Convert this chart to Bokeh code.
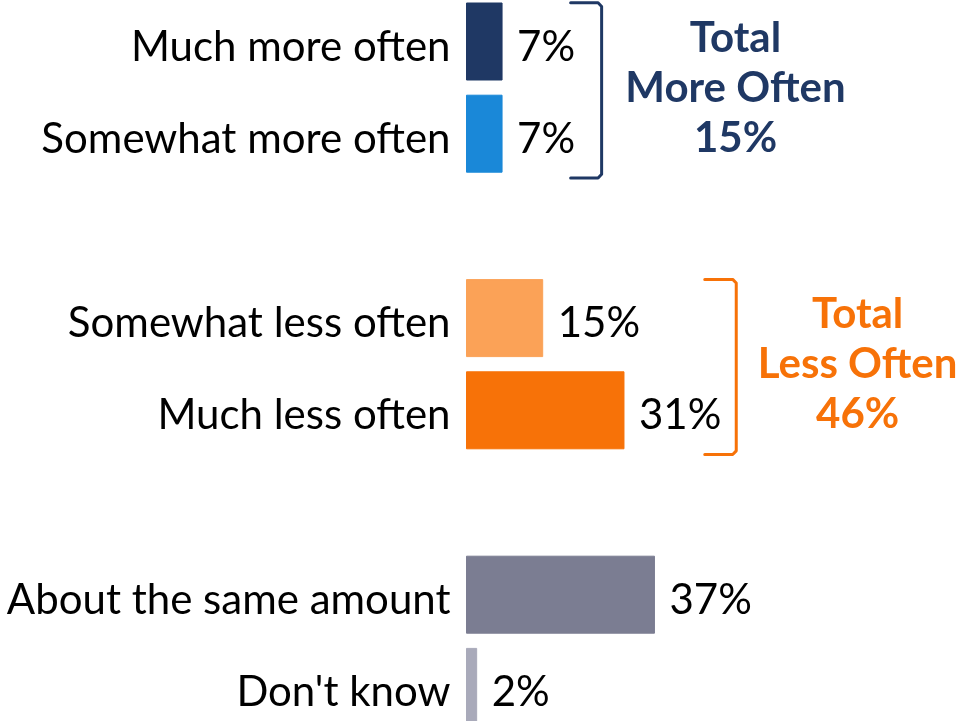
from bokeh.plotting import figure
from bokeh.models import Range1d, ColumnDataSource
from bokeh.embed import file_html
from bokeh.resources import INLINE
from bokeh.core.properties import value

# ---- data ----
categories = ["Much more often", "Somewhat more often", "Somewhat less often",
              "Much less often", "About the same amount", "Don't know"]
values = [7, 7, 15, 31, 37, 2]
value_labels = ["7%", "7%", "15%", "31%", "37%", "2%"]
bar_colors = ["#1F3864", "#1A88D8", "#FBA257", "#F77208", "#7B7D92", "#A9AABA"]
groups = [[0, 1], [2, 3], [4, 5]]
total_lines = [["Total", "More Often", "15%"], ["Total", "Less Often", "46%"]]
total_colors = ["#1F3864", "#F77208"]

# ---- layout (pixels per percent, slot spacing) ----
W, H = 961, 721
PX = 5.08          # pixels per percentage point
ZERO_X = 466       # pixel of 0%
SLOT = 92.2        # pixels per row slot
FIRST_Y = 41       # pixel of first row center
FONT = value("Lato")
FS = "42px"

bracket_x = [(20.5, 26.6), (46.9, 53.1)]   # in percent units
total_x = [52.95, 77.0]

# slot index for every category (empty slot between groups)
slots = [0] * len(categories)
s = 0
for g in groups:
    for idx in g:
        slots[idx] = s
        s += 1
    s += 1

p = figure(width=W, height=H,
           x_range=Range1d(-ZERO_X / PX, (W - ZERO_X) / PX),
           y_range=Range1d((H - FIRST_Y) / SLOT, -FIRST_Y / SLOT),
           output_backend="svg", toolbar_location=None, min_border=0)
p.axis.visible = False
p.grid.visible = False
p.outline_line_color = None
p.background_fill_color = "white"
p.border_fill_color = "white"
p.styles = {"position": "fixed", "top": "0px", "left": "0px"}

src = ColumnDataSource(dict(slot=slots, val=values, cat=categories,
                            lab=value_labels, color=bar_colors))

p.hbar(y="slot", left=0, right="val", height=77 / SLOT, color="color", source=src)

p.text(x=0, y="slot", text="cat", source=src, text_align="right",
       text_baseline="alphabetic", x_offset=-16, y_offset=3,
       text_font=FONT, text_font_size=FS, text_color="black")

p.text(x="val", y="slot", text="lab", source=src, text_align="left",
       text_baseline="alphabetic", x_offset=15, y_offset=3,
       text_font=FONT, text_font_size=FS, text_color="black")

# brackets and totals
for gi, g in enumerate(groups[:2]):
    top = slots[g[0]] - 0.42
    bot = slots[g[-1]] + 0.48
    x0, x1 = bracket_x[gi]
    rx, ry = 0.7, 0.04
    xs = [x0, x1 - rx, x1, x1, x1 - rx, x0]
    ys = [top, top, top + ry, bot - ry, bot, bot]
    p.line(xs, ys, line_color=total_colors[gi], line_width=3, line_join="round",
           line_cap="round")
    mid = (slots[g[0]] + slots[g[-1]]) / 2
    p.text(x=[total_x[gi]] * 3, y=[mid] * 3, text=total_lines[gi],
           y_offset=[-52, -2, 48], text_align="center", text_baseline="alphabetic",
           text_font=FONT, text_font_size=FS, text_font_style="bold",
           text_color=total_colors[gi])

open("out.html", "w").write(file_html(p, INLINE))
